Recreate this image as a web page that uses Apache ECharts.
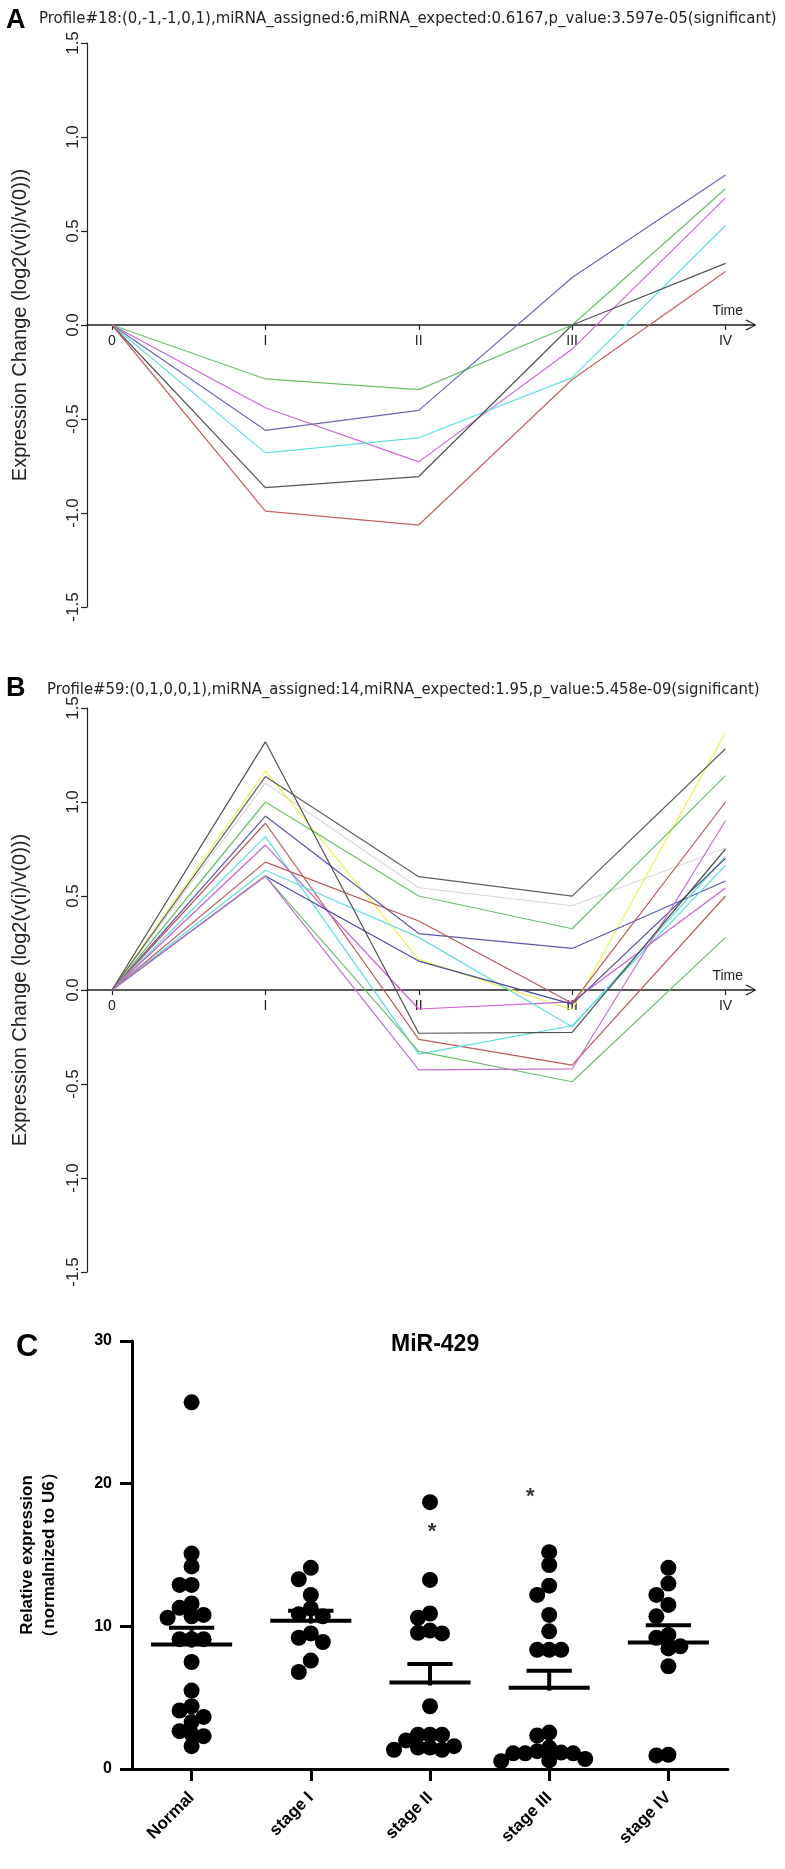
<!DOCTYPE html>
<html><head><meta charset="utf-8">
<script src="https://cdn.jsdelivr.net/npm/echarts@6/dist/echarts.min.js"></script>
<style>html,body{margin:0;padding:0;background:#fff}#c{width:785px;height:1869px}</style>
</head><body><div id="c"></div>
<script>
// ---------------- DATA ----------------
const timePoints = [0, 1, 2, 3, 4];
const timeLabels = ['0', 'I', 'II', 'III', 'IV'];
const titleA = 'Profile#18:(0,-1,-1,0,1),miRNA_assigned:6,miRNA_expected:0.6167,p_value:3.597e-05(significant)';
const titleB = 'Profile#59:(0,1,0,0,1),miRNA_assigned:14,miRNA_expected:1.95,p_value:5.458e-09(significant)';
const yNameAB = 'Expression Change (log2(v(i)/v(0)))';

// Panel A profiles (6 miRNAs)
const a_green   = [0, -0.287, -0.344,  0.000, 0.725];
const a_magenta = [0, -0.440, -0.728, -0.128, 0.676];
const a_blue    = [0, -0.560, -0.454,  0.253, 0.798];
const a_cyan    = [0, -0.680, -0.600, -0.280, 0.529];
const a_gray    = [0, -0.865, -0.806,  0.000, 0.328];
const a_red     = [0, -0.990, -1.064, -0.290, 0.285];

// Panel B profiles (14 miRNAs)
const b_gray1    = [0, 1.320, -0.230, -0.225, 0.750];
const b_yellow   = [0, 1.165,  0.163, -0.105, 1.368];
const b_gray2    = [0, 1.135,  0.603,  0.499, 1.283];
const b_lgray    = [0, 1.100,  0.544,  0.448, 0.755];
const b_green1   = [0, 1.000,  0.500,  0.326, 1.140];
const b_blue1    = [0, 0.925,  0.300,  0.221, 0.580];
const b_red1     = [0, 0.887, -0.263, -0.400, 0.500];
const b_cyan1    = [0, 0.816, -0.341, -0.190, 0.663];
const b_magenta1 = [0, 0.771, -0.101, -0.063, 0.543];
const b_red2     = [0, 0.680,  0.367, -0.070, 1.000];
const b_cyan2    = [0, 0.637,  0.280, -0.196, 0.710];
const b_blue2    = [0, 0.606,  0.154, -0.075, 0.700];
const b_green2   = [0, 0.606, -0.326, -0.488, 0.280];
const b_magenta2 = [0, 0.606, -0.425, -0.420, 0.900];

// Panel C: MiR-429 relative expression
const groupNames = ['Normal', 'stage I', 'stage II', 'stage III', 'stage IV'];
const c_normal = [25.7, 15.1, 14.2, 12.9, 12.9, 11.6, 11.3, 10.6, 10.8, 10.7, 9.1, 9.1, 9.1, 7.5, 5.5, 4.1, 4.4, 3.65, 3.3, 2.45, 2.65, 2.3, 1.6];
const c_stage1 = [14.1, 13.3, 12.2, 11.25, 10.85, 10.7, 9.5, 8.9, 9.2, 7.6, 6.8];
const c_stage2 = [18.7, 13.25, 10.9, 10.6, 9.7, 9.55, 9.5, 4.4, 2.4, 2.4, 2.4, 1.5, 1.35, 1.35, 1.5, 1.6, 2.0];
const c_stage3 = [15.2, 14.3, 12.85, 12.2, 10.8, 9.65, 8.35, 8.35, 8.35, 2.55, 2.35, 1.5, 1.1, 1.1, 1.15, 1.1, 1.25, 0.7, 0.55, 0.6];
const c_stage4 = [14.1, 13.0, 12.2, 11.5, 10.7, 9.4, 9.2, 8.45, 8.6, 7.2, 0.95, 1.0];
const c_asterisks = [[2, 16.6], [3, 19.1]];

// ---------------- STYLE / LAYOUT ----------------
const colA = { a_green:'#6cbf6c', a_magenta:'#cc66d6', a_blue:'#6a6ab4', a_cyan:'#5fe0e0', a_gray:'#555555', a_red:'#c86060' };
const colB = { b_gray1:'#505050', b_yellow:'#f2f24a', b_gray2:'#606060', b_lgray:'#d8d8d8', b_green1:'#6cbf6c', b_blue1:'#5a5aaa',
  b_red1:'#c05858', b_cyan1:'#55dcdc', b_magenta1:'#cc60d4', b_red2:'#b85a5a', b_cyan2:'#66dede', b_blue2:'#4a4a9a',
  b_green2:'#70bb70', b_magenta2:'#c070d0' };

function hasFont(name){
  const ctx = document.createElement('canvas').getContext('2d');
  const t = 'abcdefghijklmnopqrstuvwxyzABCDEFGH0123456789';
  let r = false;
  ['monospace','serif'].forEach(fb=>{
    ctx.font = '72px ' + fb; const a = ctx.measureText(t).width;
    ctx.font = '72px "' + name + '", ' + fb; const b = ctx.measureText(t).width;
    if (Math.abs(a-b) > 0.5) r = true;
  });
  return r;
}
const narrow = ['Liberation Sans Narrow','DejaVu Sans Condensed','Arial Narrow','Liberation Sans'].find(hasFont) || 'sans-serif';
const sans = hasFont('Liberation Sans') ? 'Liberation Sans' : 'Arial';
function fitSize(text, family, weight, target){
  const ctx = document.createElement('canvas').getContext('2d');
  ctx.font = weight + ' 100px "' + family + '"';
  return 100 * target / ctx.measureText(text).width;
}
const fsA = fitSize(titleA, narrow, 'normal', 738);
const fsB = fitSize(titleB, narrow, 'normal', 713);

const arrowPath = 'path://M5,0 L10,9 L9,10 L5.6,3 L5.6,10 L4.4,10 L4.4,3 L1,10 L0,9 Z';
const gA = { left:87, top:43, width:660, height:564 };
const gB = { left:87, top:708, width:660, height:564 };

function profileAxes(gridIndex, g){
  return {
    x: {
      type:'value', gridIndex, min:-0.163, max:4.14, position:'bottom', offset:-g.height/2,
      axisLine:{ onZero:false, lineStyle:{ color:'#222', width:1.5 }, symbol:['none', arrowPath], symbolSize:[12, 11], symbolOffset:[0, 4] },
      axisTick:{ show:true, customValues: timePoints, length:5, lineStyle:{ color:'#222', width:1.2 } },
      axisLabel:{ customValues: timePoints, formatter: v => timeLabels[Math.round(v)], margin:9, fontSize:14, color:'#222', fontFamily:sans },
      splitLine:{ show:false },
      name:'Time', nameLocation:'end', nameGap:-4,
      nameTextStyle:{ align:'right', verticalAlign:'bottom', padding:[0,0,7,0], fontSize:14, color:'#222', fontFamily:sans }
    },
    y: {
      type:'value', gridIndex, min:-1.5, max:1.5, interval:0.5,
      axisLine:{ show:true, onZero:false, lineStyle:{ color:'#222', width:1.2 } },
      axisTick:{ show:true, length:6, lineStyle:{ color:'#222', width:1.2 } },
      axisLabel:{ rotate:90, margin:5, fontSize:17, color:'#222', fontFamily:sans, formatter: v => v.toFixed(1) },
      splitLine:{ show:false },
      name: yNameAB, nameLocation:'middle', nameGap:57,
      nameTextStyle:{ fontSize:20, color:'#222', fontFamily:sans }
    }
  };
}
const pa = profileAxes(0, gA), pb = profileAxes(1, gB);

function lineSeries(name, data, color, idx){
  return { type:'line', name, xAxisIndex:idx, yAxisIndex:idx, data: timePoints.map((t,i)=>[t, data[i]]),
    symbol:'none', lineStyle:{ color, width:1.2 }, itemStyle:{ color }, silent:true, z:3 };
}
const seriesA = [
  ['a_green',a_green],['a_magenta',a_magenta],['a_blue',a_blue],['a_cyan',a_cyan],['a_gray',a_gray],['a_red',a_red]
].map(([n,d])=>lineSeries(n,d,colA[n],0));
const seriesB = [
  ['b_lgray',b_lgray],['b_yellow',b_yellow],['b_gray2',b_gray2],['b_green1',b_green1],['b_blue1',b_blue1],['b_red1',b_red1],
  ['b_cyan1',b_cyan1],['b_magenta1',b_magenta1],['b_red2',b_red2],['b_cyan2',b_cyan2],['b_blue2',b_blue2],
  ['b_green2',b_green2],['b_magenta2',b_magenta2],['b_gray1',b_gray1]
].map(([n,d])=>lineSeries(n,d,colB[n],1));

// Panel C layout
const gC = { left:132, top:1341, width:596, height:428 };
const pxPerVal = gC.height / 30, pxPerCat = gC.width / 5;
function swarm(values){
  const order = values.map((v,i)=>i).sort((a,b)=>values[b]-values[a]);
  const placed = [], offs = new Array(values.length).fill(0);
  const step = 12, minD = 11.5;
  for (const i of order){
    const y = values[i]*pxPerVal; let done = false;
    for (let k=0; k<40 && !done; k++){
      const cands = k===0 ? [0] : [-k, k];
      for (const c of cands){
        const x = c*step;
        if (placed.every(p => (p.x-x)**2 + (p.y-y)**2 >= minD*minD)){ placed.push({x,y}); offs[i] = x/pxPerCat; done = true; break; }
      }
    }
  }
  return offs;
}
const groups = [c_normal, c_stage1, c_stage2, c_stage3, c_stage4];
const dotData = [];
groups.forEach((vals, gi) => { const o = swarm(vals); vals.forEach((v,i)=>dotData.push([gi + o[i], v])); });
function mean(a){ return a.reduce((s,v)=>s+v,0)/a.length; }
function sem(a){ const m = mean(a); const sd = Math.sqrt(a.reduce((s,v)=>s+(v-m)**2,0)/(a.length-1)); return sd/Math.sqrt(a.length); }
const statData = groups.map((g,i)=>[i, mean(g), sem(g)]);

const option = {
  animation:false,
  backgroundColor:'#fff',
  title:[
    { text:'A', left:1, top:2, textStyle:{ fontSize:27, fontWeight:'bold', color:'#000', fontFamily:sans } },
    { text:titleA, left:34, top:5, textStyle:{ fontSize:fsA, fontWeight:'normal', color:'#222', fontFamily:narrow } },
    { text:'B', left:1, top:670, textStyle:{ fontSize:27, fontWeight:'bold', color:'#000', fontFamily:sans } },
    { text:titleB, left:42, top:676, textStyle:{ fontSize:fsB, fontWeight:'normal', color:'#222', fontFamily:narrow } },
    { text:'C', left:11, top:1327, textStyle:{ fontSize:31, fontWeight:'bold', color:'#000', fontFamily:sans } },
    { text:'MiR-429', left:386, top:1328, textStyle:{ fontSize:23, fontWeight:'bold', color:'#000', fontFamily:sans } }
  ],
  grid:[ gA, gB, gC ],
  xAxis:[ pa.x, pb.x, {
    type:'value', gridIndex:2, min:-0.5, max:4.5,
    axisLine:{ show:true, onZero:false, lineStyle:{ color:'#000', width:3 } },
    axisTick:{ show:true, customValues:[0,1,2,3,4], length:12, lineStyle:{ color:'#000', width:3 } },
    axisLabel:{ customValues:[0,1,2,3,4], formatter: v => groupNames[Math.round(v)], rotate:45, margin:26,
      fontSize:17, fontWeight:'bold', color:'#000', fontFamily:sans },
    splitLine:{ show:false }
  }],
  yAxis:[ pa.y, pb.y, {
    type:'value', gridIndex:2, min:0, max:30, interval:10,
    axisLine:{ show:true, onZero:false, lineStyle:{ color:'#000', width:3 } },
    axisTick:{ show:true, length:12, lineStyle:{ color:'#000', width:3 } },
    axisLabel:{ margin:20, fontSize:16, fontWeight:'bold', color:'#000', fontFamily:sans },
    splitLine:{ show:false },
    name:'Relative expression\n（normalnized to U6）', nameLocation:'middle', nameGap:72,
    nameTextStyle:{ fontSize:17, fontWeight:'bold', color:'#000', fontFamily:sans, lineHeight:22 }
  }],
  series:[
    ...seriesA, ...seriesB,
    { type:'scatter', xAxisIndex:2, yAxisIndex:2, data:dotData, symbol:'circle', symbolSize:16,
      itemStyle:{ color:'#000', opacity:1 }, silent:true, z:3 },
    { type:'custom', xAxisIndex:2, yAxisIndex:2, data:statData, z:4, silent:true,
      renderItem:(params, api) => {
        const x = api.value(0), m = api.value(1), s = api.value(2);
        const L = api.coord([x-0.34, m]), R = api.coord([x+0.34, m]);
        const cL = api.coord([x-0.19, m+s]), cR = api.coord([x+0.19, m+s]);
        const c0 = api.coord([x, m]), c1 = api.coord([x, m+s]);
        const st = { stroke:'#000', lineWidth:4 };
        return { type:'group', children:[
          { type:'line', shape:{ x1:L[0], y1:L[1], x2:R[0], y2:R[1] }, style:st },
          { type:'line', shape:{ x1:cL[0], y1:cL[1], x2:cR[0], y2:cR[1] }, style:st },
          { type:'line', shape:{ x1:c0[0], y1:c0[1]+3, x2:c1[0], y2:c1[1] }, style:st }
        ]};
      } },
    { type:'scatter', xAxisIndex:2, yAxisIndex:2, data:c_asterisks, symbolSize:1,
      itemStyle:{ color:'rgba(0,0,0,0)' }, silent:true, z:5,
      label:{ show:true, position:'inside', formatter:'*', fontSize:22, fontWeight:'bold', color:'#000', fontFamily:sans,
        offset:[0, 6] },
      labelLayout: p => (p.dataIndex === 1 ? { dx:-19 } : { dx:2 }) }
  ]
};
const chart = echarts.init(document.getElementById('c'));
chart.setOption(option);
</script></body></html>
